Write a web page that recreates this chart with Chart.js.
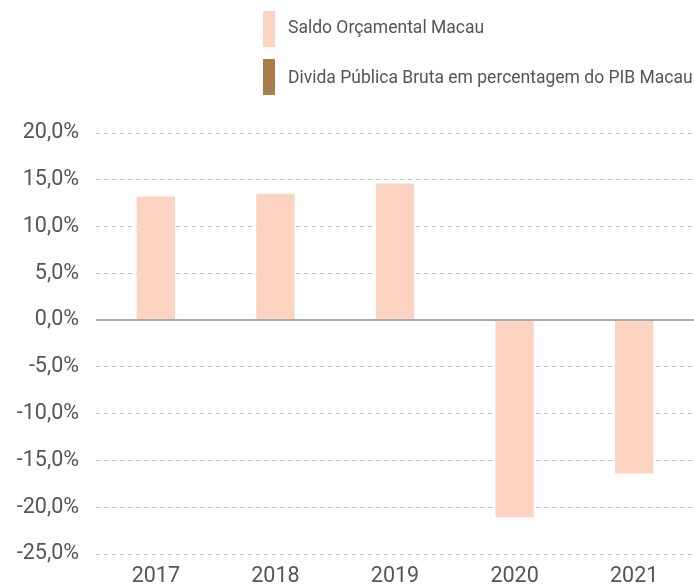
<!DOCTYPE html>
<html>
<head>
<meta charset="utf-8">
<script src="https://cdn.jsdelivr.net/npm/chart.js@4/dist/chart.umd.min.js"></script>
<style>
  html, body { margin: 0; padding: 0; background: #ffffff; }
  #wrap { width: 694px; height: 585px; position: relative; }
</style>
</head>
<body>
<div id="wrap"><canvas id="c" width="694" height="585"></canvas></div>
<script>
const categories = ['2017', '2018', '2019', '2020', '2021'];
const saldoOrcamental = [13.2, 13.5, 14.6, -21.1, -16.4];
const dividaPublica = [null, null, null, null, null];
const seriesLabels = ['Saldo Orçamental Macau', 'Divida Pública Bruta em percentagem do PIB Macau'];
const seriesColors = ['#FCD3C1', '#A97D4B'];
const yTicks = { min: -25, max: 20, step: 5 };

const FONT = 'Roboto, "Noto Sans", sans-serif';
const TEXT = '#555557';

const legendPlugin = {
  id: 'stackedLegend',
  afterDraw(chart) {
    const ctx = chart.ctx;
    ctx.save();
    chart.data.datasets.forEach((ds, i) => {
      const y0 = 11 + i * 48;
      ctx.fillStyle = ds.backgroundColor;
      ctx.fillRect(263, y0, 12, 36);
      ctx.fillStyle = TEXT;
      ctx.font = '17.5px ' + FONT;
      ctx.textBaseline = 'middle';
      ctx.textAlign = 'left';
      ctx.fillText(ds.label, 288, y0 + 18 + i * 2);
    });
    ctx.restore();
  }
};

const zeroLinePlugin = {
  id: 'zeroLine',
  afterDatasetsDraw(chart) {
    const y = chart.scales.y.getPixelForValue(0);
    const ctx = chart.ctx;
    ctx.save();
    ctx.strokeStyle = '#a9a9ad';
    ctx.lineWidth = 2;
    ctx.beginPath();
    ctx.moveTo(chart.chartArea.left, y);
    ctx.lineTo(chart.chartArea.right, y);
    ctx.stroke();
    ctx.restore();
  }
};

new Chart(document.getElementById('c'), {
  type: 'bar',
  data: {
    labels: categories,
    datasets: [
      { label: seriesLabels[0], data: saldoOrcamental, backgroundColor: seriesColors[0] },
      { label: seriesLabels[1], data: dividaPublica, backgroundColor: seriesColors[1] }
    ]
  },
  options: {
    responsive: false,
    animation: false,
    devicePixelRatio: 1,
    layout: { padding: { top: 133, left: 0, right: 0, bottom: 0 } },
    datasets: { bar: { grouped: false, categoryPercentage: 0.8, barPercentage: 0.4 } },
    plugins: { legend: { display: false }, tooltip: { enabled: false } },
    scales: {
      x: {
        afterFit(scale) { scale.height = 31; },
        grid: { display: false, drawTicks: false },
        border: { display: false },
        ticks: { color: TEXT, font: { family: FONT, size: 21.5 }, padding: 10 }
      },
      y: {
        min: yTicks.min, max: yTicks.max,
        afterFit(scale) { scale.width = 96; },
        grid: {
          drawTicks: false,
          color: (c) => c.tick && c.tick.value === 0 ? 'rgba(0,0,0,0)' : '#c4c4c4',
          lineWidth: 1
        },
        border: { display: false, dash: [4, 4] },
        ticks: {
          stepSize: yTicks.step,
          color: TEXT,
          font: { family: FONT, size: 21.5 },
          padding: 17,
          callback: (v) => v.toFixed(1).replace('.', ',') + '%'
        }
      }
    }
  },
  plugins: [legendPlugin, zeroLinePlugin]
});
</script>
</body>
</html>
